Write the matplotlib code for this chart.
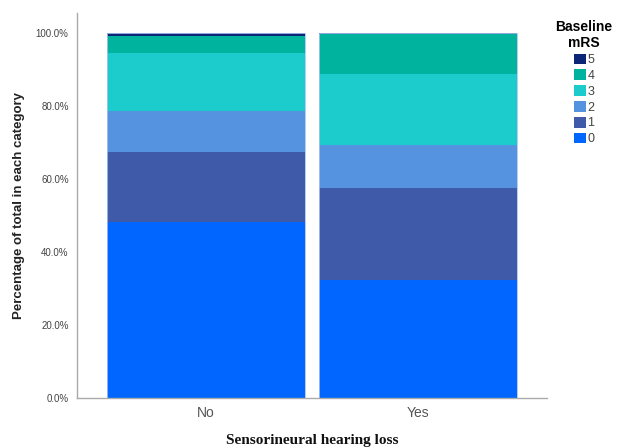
import matplotlib
matplotlib.use("Agg")
import matplotlib.pyplot as plt
from matplotlib.patches import Patch
import numpy as np

# Stacked percentages
groups = ['No', 'Yes']
levels = ['0', '1', '2', '3', '4', '5']
pct_no = [48.2, 19.2, 11.2, 15.9, 4.7, 0.8]
pct_yes = [32.3, 25.2, 11.8, 19.5, 10.9, 0.3]
colors = ['#0066ff', '#3f5aa8', '#5592e0', '#1ccbcb', '#00b39e', '#0c2577']

plt.rcParams['font.family'] = ['Liberation Sans', 'DejaVu Sans']

fig = plt.figure(figsize=(6.17, 4.48), dpi=100)
ax = fig.add_axes([0.1248, 0.1116, 0.7618, 0.8594])

data = np.array([pct_no, pct_yes])
x = np.arange(len(groups))
bottom = np.zeros(len(groups))
for i, lev in enumerate(levels):
    ax.bar(x, data[:, i], bottom=bottom, width=0.934, color=colors[i],
           linewidth=0)
    bottom += data[:, i]
# thin light outline around each full bar
ax.bar(x, bottom, width=0.934, fill=False, edgecolor='#a9c4f0', linewidth=0.6)

ax.set_xlim(-0.608, 1.608)
ax.set_ylim(0, 105.5)
ax.set_yticks([0, 20, 40, 60, 80, 100])
ax.set_yticklabels(['%.1f%%' % v for v in [0, 20, 40, 60, 80, 100]])
ax.set_xticks(x)
ax.set_xticklabels(groups)
ax.tick_params(axis='y', length=0, labelsize=7, labelcolor='#444444', pad=6)
ax.tick_params(axis='x', length=0, labelsize=10, labelcolor='#555555', pad=6)
for s in ['top', 'right']:
    ax.spines[s].set_visible(False)
for s in ['left', 'bottom']:
    ax.spines[s].set_color('#aaaaaa')
    ax.spines[s].set_linewidth(1.0)

ax.set_ylabel('Percentage of total in each category', fontsize=9.5,
              fontweight='bold', color='#222222', labelpad=8)
ax.set_xlabel('Sensorineural hearing loss', fontsize=11, fontweight='bold',
              family='Liberation Serif', color='#111111', labelpad=10)

handles = [Patch(facecolor=colors[i], edgecolor='none') for i in range(5, -1, -1)]
labels = [levels[i] for i in range(5, -1, -1)]
leg = fig.legend(handles, labels, title='Baseline\nmRS', loc='upper left',
                 bbox_to_anchor=(0.882, 0.98), frameon=False, fontsize=9,
                 title_fontproperties={'weight': 'bold', 'size': 10},
                 handlelength=0.95, handleheight=0.95, handletextpad=0.15,
                 labelspacing=0.25, labelcolor='#444444')
leg.get_title().set_multialignment('center')

fig.savefig('out.png', dpi=100)
